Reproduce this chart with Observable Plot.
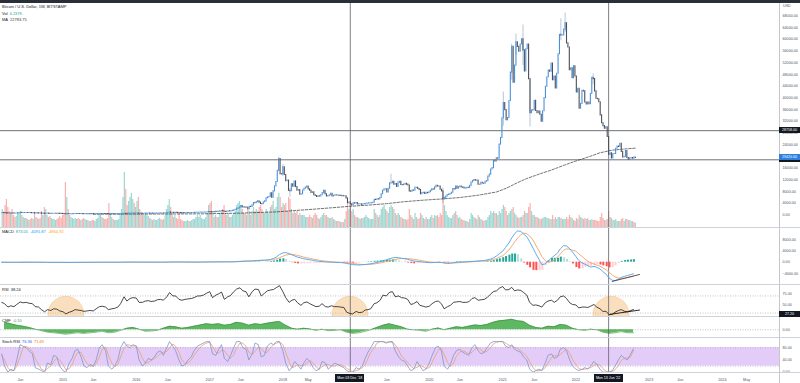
<!DOCTYPE html>
<html><head><meta charset="utf-8">
<script src="https://cdn.jsdelivr.net/npm/d3@7"></script>
<script src="https://cdn.jsdelivr.net/npm/@observablehq/plot@0.6"></script>
<style>
body{margin:0;background:#fff;}
#root{position:relative;width:800px;height:383px;overflow:hidden;background:#fff;font-family:"Liberation Sans",Arial,sans-serif;}
.lg{position:absolute;left:2px;font-size:4px;line-height:5px;color:#131722;white-space:nowrap;}
.lg span{margin-left:2px;}
.tag{position:absolute;font-size:3.6px;color:#fff;text-align:center;white-space:nowrap;}
.sep{position:absolute;left:0;width:800px;height:1px;background:#cfd2d8;}
</style></head><body><div id="root"></div>
<script>
// ---------------- DATA ----------------
const weekStart = "2014-03-03";           // first weekly candle (Monday)
const firstOpen = 560;
const close2014 = [635,630,585,480,450, 440,500,460,440, 430,445,525,580, 655,590,595,595,630, 620,620,600,585, 590,495,510,480, 475,475,400,400,330, 360,385,355,325, 365,375,375,378, 370,345,320,318,270];
const close2015 = [265,205,250,225, 225,235,240,255, 275,280,260,250,255, 235,225,225,240, 240,235,240,230, 225,230,245,250,270, 290,280,290,280, 265,260,230,230,240, 230,230,235,240, 245,270,290,325, 380,330,325,360,390, 435,450,420,430];
const close2016 = [450,385,385,375, 370,375,410,420,435, 410,415,410,415, 420,425,445,460, 455,455,440,470,530, 680,760,630,660, 650,680,660,625, 590,585,580,575,575, 605,610,600,610, 615,640,650,690,700, 705,735,735,740, 765,785,890,960];
const close2017 = [910,820,925,920,1015, 1000,1050,1190,1250, 1230,1020,970,1090, 1190,1180,1250,1350, 1540,1720,2050,2170,2500, 2950,2500,2530,2430, 2500,1950,2750,2720,3230, 4050,4000,4350,4600, 4150,3700,3600,4300, 4600,5650,5950,6100,7350, 5850,8000,9700,11200, 15000,19100,13900,13800];
const close2018 = [16200,13600,11500,11700,8200, 8100,10400,9600,11400, 9500,8200,8500,6900, 7000,8300,8900,9300,9650, 8700,8200,7500,7650, 6700,6450,6100,6350, 6300,6700,7400,8200,7000, 6300,6400,6700,7200, 6300,6500,6700,6600, 6600,6450,6500,6400,6350, 6350,5600,4000,4150, 3600,3200,3950,3850,4050];
const close2019 = [3500,3550,3550,3420, 3600,3650,3800,3850, 3900,3970,3990,4100, 5100,5050,5300,5250,5750, 7000,8200,8700,8700, 7600,8900,10800,10800, 11300,10300,10500,9500,11000, 11300,10200,10100,10300, 10600,10300,10000,8000,7900, 8300,8250,9200,9200, 8800,8500,7000,7400, 7500,7100,7500,7400,7700];
const close2020 = [8200,8700,8600,9350, 9900,9700,9650,8550, 8000,5350,5800,6250,6750, 6900,7100,7550,8800, 8700,9700,8900,9450, 9700,9350,9300,9000,9050, 9250,9200,9900,11050, 11550,11900,11650,11700,10300, 10300,10950,10700,10650, 11300,11500,13050,13750, 15500,15950,18450,18200,19350, 19150,24000,26300,33000];
const close2021 = [38200,35800,32300,33100, 38900,48600,57400,45200, 51000,59000,57400,55800,58200, 60000,56200,49000,56600, 58200,46400,34700,35600,35800, 39000,35500,34700,35300, 34200,31800,35400,39900, 43800,47000,49300,48900,51700, 46000,47300,43200,48200, 54900,61500,61300,61300, 63300,65500,58600,57200,49400, 50100,46700,50800,47300];
const close2022 = [41800,43100,36300,37900,42400, 42200,38400,37700,38400, 37800,41300,46800,46400, 42200,39700,39500,38500, 34000,31300,30300,29400,29900, 26600,20500,21000,19300, 20800,20800,22600,23300, 23200,24300,21500,19600,19800, 21800,19400,18800,19300, 19400,19200,19600,19420];

// notable weekly wicks (week start, high, low)
const wickDates = ["2017-12-11","2018-01-01","2018-02-05","2019-06-24","2020-03-09","2021-01-04","2021-02-15","2021-03-08","2021-04-12","2021-05-17","2021-10-18","2021-11-08","2022-03-28","2022-06-13"];
const wickHighs = [19666,17200,9000,13880,9150,41950,58350,61780,64900,45800,67000,69000,48200,22600];
const wickLows  = [15000,13000,6000,10300,3850,30300,46000,54500,51000,30000,59500,62300,44400,17600];

// weekly volume, thousand BTC
const vol2014 = [18,15,22,28,20, 16,14,18,12, 10,11,15,14, 16,12,10,9,9, 8,7,8,9, 8,14,10,9, 8,9,16,12,20, 18,12,10,11, 9,8,8,7, 8,9,11,9,12];
const vol2015 = [14,45,30,18, 12,10,9,8, 9,8,9,8,7, 8,9,8,7, 7,6,6,7, 7,6,8,9,12, 14,10,9,8, 8,9,24,14,10, 8,7,7,7, 8,14,18,30, 55,38,22,26,30, 34,28,24,20];
const vol2016 = [26,30,18,14, 12,12,14,12,11, 9,8,7,8, 7,7,8,9, 8,7,8,12,18, 22,28,20,14, 10,12,9,8, 14,8,7,6,6, 6,7,6,6, 7,8,8,10,12, 10,12,9,8, 8,10,14,22];
const vol2017 = [24,26,14,10,12, 10,10,14,16, 18,22,14,12, 14,10,10,12, 14,16,22,24,26, 22,18,14,14, 12,18,16,12,16, 20,16,18,16, 20,22,18,14, 14,18,16,14,20, 22,26,18,20, 30,34,30,20];
const vol2018 = [24,22,24,16,30, 28,18,14,16, 14,16,12,14, 12,12,12,10,10, 10,12,10,9, 12,14,12,9, 8,10,12,14,12, 12,10,9,9, 10,8,7,6, 6,6,5,5,5, 8,16,26,18, 20,16,18,12,10];
const vol2019 = [10,9,8,9, 9,10,12,10, 9,8,8,8, 18,14,12,10,12, 18,20,22,18, 16,14,20,22, 20,18,14,12,14, 12,10,9,8, 8,7,8,18,12, 10,8,14,10, 8,9,14,12, 9,8,10,8,8];
const vol2020 = [10,12,9,12, 11,12,10,14, 12,30,22,16,12, 10,9,9,12, 14,16,12,9, 10,8,7,7,6, 6,5,8,14, 12,10,9,8,12, 10,8,7,6, 7,7,10,12, 16,14,16,14,14, 12,16,14,18];
const vol2021 = [22,20,16,12, 14,16,18,20, 14,12,10,9,10, 10,12,16,14, 14,20,24,16,12, 12,10,10,9, 8,8,9,10, 10,9,9,8,8, 12,8,10,8, 10,10,9,8, 8,8,10,8,12, 10,9,7,6];
const vol2022 = [9,8,12,10,9, 8,9,8,9, 7,7,8,7, 7,7,6,6, 10,14,9,7,7, 8,16,10,9, 7,7,8,6, 6,6,8,9,6, 8,8,7,7, 6,6,5,4.237];

// 200-week moving average
const maDates  = ["2015-06-01","2015-12-01","2016-06-01","2016-12-01","2017-06-01","2017-12-01","2018-03-01","2018-06-01","2018-09-01","2018-12-01","2019-03-01","2019-06-01","2019-09-01","2019-12-01","2020-03-01","2020-06-01","2020-09-01","2020-12-01","2021-01-01","2021-02-01","2021-03-01","2021-04-01","2021-05-01","2021-07-01","2021-09-01","2021-11-01","2022-01-01","2022-03-01","2022-05-01","2022-07-01","2022-09-01","2022-10-24"];
const maValues = [210,240,280,340,560,1000,1450,1900,2400,2900,3300,3800,4500,5000,5400,5900,6700,7800,8600,9500,10500,11500,12400,13900,15300,16900,18400,19700,21200,22100,22500,22784];

// semi-monthly indicator samples (1st and 15th), Mar 2014 .. Oct 2022
const semiStart = "2014-03-01";
const macd = [
 -20,-30,-40,-45,-40,-30,-20,-10,0,5,0,-10,-25,-40,-55,-60,-55,-50,-45,-50,
 -60,-70,-70,-65,-55,-50,-45,-40,-38,-35,-30,-20,-10,-5,-5,-8,-10,-10,-8,-2,10,25,35,40,
 38,30,22,15,10,8,8,10,12,15,25,50,70,80,75,65,55,45,40,38,40,45,55,80,
 100,110,120,130,135,130,125,140,170,220,300,380,420,430,460,550,650,700,720,800,1000,1300,1900,2700,
 3300,3400,3100,2600,2200,1800,1500,1200,1000,850,650,450,300,200,100,50,-20,-60,-100,-120,-250,-450,-650,-850,
 -950,-980,-900,-800,-680,-550,-300,-100,200,500,850,1200,1500,1700,1600,1400,1200,1000,700,450,300,200,50,-50,
 -150,-150,-80,0,-100,-300,-450,-350,-200,-50,50,100,150,200,250,350,450,500,600,800,1100,1500,2200,3000,
 3900,5200,6800,8600,10000,11100,10900,10000,9000,7300,5000,3000,1000,-900,-600,400,1500,2300,3200,4700,5900,5700,4800,3600,
 2000,600,-300,-700,-1200,-1700,-1500,-1800,-2400,-3300,-4300,-5600,-6400,-6500,-6000,-5400,-5000,-4700,-4400,-4091.87];
const signal = [
 -10,-15,-25,-32,-38,-38,-33,-25,-15,-5,0,-3,-10,-20,-32,-42,-50,-52,-51,-50,
 -52,-58,-63,-65,-63,-60,-55,-50,-46,-42,-38,-32,-25,-18,-12,-10,-9,-9,-9,-7,-2,6,16,25,
 30,31,29,25,20,15,12,11,11,12,16,26,40,55,65,67,63,57,50,45,42,42,46,56,
 70,85,100,110,120,125,127,130,140,160,200,250,310,360,400,450,520,590,650,700,780,900,1200,1600,
 2100,2500,2750,2800,2650,2400,2100,1800,1550,1350,1100,900,700,520,380,260,150,70,0,-50,-100,-200,-330,-480,
 -600,-720,-800,-830,-800,-740,-620,-470,-270,-50,200,450,720,980,1180,1290,1320,1280,1180,1030,850,650,460,280,
 100,0,-50,-60,-70,-120,-200,-250,-260,-220,-150,-80,0,80,150,230,320,400,480,580,730,950,1300,1800,
 2300,3200,4300,5700,7100,8500,9700,10300,10100,9300,7900,6000,4000,2000,600,-100,200,900,1800,2900,4300,4700,4600,4200,
 3900,3000,2000,1100,400,-200,-700,-1000,-1400,-2000,-2700,-3600,-4500,-5200,-5600,-5700,-5600,-5400,-5200,-4964.92];
const rsi = [
 55,52,44,47,45,50,56,54,55,53,52,45,44,38,33,38,36,40,39,35,
 33,28,32,34,38,37,36,34,35,36,35,40,45,46,44,38,40,41,44,52,68,58,64,66,
 65,55,55,58,59,57,58,61,62,60,68,78,70,70,62,60,62,63,64,66,70,70,72,76,
 80,66,72,75,79,62,68,71,80,86,89,82,80,68,80,86,85,70,76,82,84,85,90,94,
 80,66,55,60,62,54,48,54,56,52,48,45,46,52,45,44,47,45,45,44,43,32,29,28,
 34,31,32,37,38,40,52,54,60,72,70,78,80,68,70,66,65,62,50,52,57,48,46,44,
 46,52,57,58,52,40,45,48,55,56,57,55,55,56,64,66,60,61,62,66,74,80,82,88,
 92,84,85,90,82,84,83,78,72,55,48,49,47,44,54,58,60,55,60,68,70,64,54,50,
 49,42,44,44,43,46,50,44,40,34,34,26,27,32,36,38,34,33,36,38.24];
const stochK = [
 60,20,0,10,5,40,90,85,80,70,60,15,10,5,0,30,25,55,50,20,
 5,0,30,45,70,75,50,20,15,25,20,40,80,90,70,20,10,20,40,80,100,85,80,90,
 85,40,20,30,45,40,50,65,70,55,80,100,85,70,40,20,25,40,50,70,85,90,95,100,
 100,60,55,75,90,45,35,55,80,100,100,80,75,40,60,95,90,50,55,85,95,90,100,100,
 70,30,5,15,35,25,10,30,45,35,15,5,10,35,30,10,20,30,25,20,15,5,0,0,
 15,10,20,45,65,80,100,100,100,100,95,100,100,70,50,40,35,20,5,10,35,20,5,10,
 30,55,80,85,70,20,10,25,55,70,75,65,60,55,80,90,70,60,65,80,95,100,100,100,
 100,85,80,90,75,70,65,50,40,10,0,5,10,5,30,55,60,45,50,75,80,70,40,20,
 10,5,10,15,10,20,35,25,10,0,0,0,5,20,40,55,45,40,60,76.36];
const stochD = [
 55,40,15,5,5,20,50,80,85,78,68,45,25,10,5,12,20,35,45,40,
 25,8,12,25,48,65,65,45,28,20,20,28,50,75,82,55,30,18,25,50,80,90,88,85,
 86,70,45,30,32,38,45,52,62,65,68,80,92,85,65,40,28,30,40,55,70,82,90,95,
 98,85,65,62,72,70,55,45,57,78,95,95,85,65,58,68,82,78,65,65,80,90,95,98,
 90,65,35,15,18,25,22,22,30,38,30,18,10,18,25,25,20,20,25,25,20,13,6,2,
 5,8,15,25,45,65,80,95,100,100,98,98,98,90,72,52,42,32,20,12,16,22,18,12,
 15,32,55,72,78,58,32,18,30,52,66,70,66,60,65,75,80,72,65,68,80,92,98,100,
 100,95,88,85,82,78,70,62,52,35,15,5,5,7,15,30,48,55,52,58,68,75,62,42,
 25,12,8,10,12,15,22,27,23,12,3,0,2,8,22,38,47,47,50,71.69];
// monthly Chaikin money flow (mid-month), Mar 2014 .. Oct 2022
const cmf = [
 0.25,0.2,0.15,0.12,0.08,0.02,-0.03,-0.08,-0.1,-0.12,
 -0.15,-0.12,-0.1,-0.12,-0.1,-0.08,-0.05,-0.1,-0.08,-0.02,0.05,0.08,
 0.02,-0.05,-0.04,-0.02,0.05,0.12,0.1,0.05,0.08,0.12,0.16,0.2,
 0.18,0.2,0.15,0.18,0.25,0.22,0.15,0.2,0.18,0.22,0.25,0.28,
 0.15,0.05,0.02,0.05,0.03,-0.02,0.02,-0.03,-0.02,0.0,-0.08,-0.12,
 -0.1,-0.05,0.0,0.08,0.15,0.2,0.15,0.1,0.02,0.0,-0.02,-0.05,
 0.02,0.06,0.0,0.05,0.1,0.08,0.12,0.16,0.14,0.18,0.25,0.3,
 0.32,0.35,0.3,0.28,0.15,0.08,0.05,0.12,0.1,0.18,0.15,0.05,
 0.0,-0.02,0.02,0.0,-0.08,-0.12,-0.1,-0.06,-0.1,-0.1];

// drawings / levels
const priceLevels = [28758, 18800];
const crossDates = ["2018-12-03","2022-06-13"];
const crossLabels = ["Mon 03 Dec '18","Mon 13 Jun '22"];
const rsiCircleDates = ["2015-01-15","2018-12-01","2022-06-25"];
const rsiCircleValue = 27;
const rsiBands = [70, 30];
const rsiTrend = [{date:"2022-06-20", v:27},{date:"2022-11-14", v:37}];
const macdTrend = [{date:"2022-07-01", v:-6800},{date:"2022-11-14", v:-4350}];
const priceTicks = d3.range(0, 68001, 4000);
const macdTicks = [-4000, 0, 4000, 8000];
const rsiTicks = [50, 75];
const stochTicks = [0, 40, 80];
const timeTickDates = ["2014-06-02","2015-01-01","2015-06-01","2016-01-01","2016-06-06","2017-01-01","2017-06-05","2018-01-01","2018-05-07","2019-06-03","2020-01-01","2020-06-01","2021-01-01","2021-06-07","2022-01-01","2023-01-01","2023-06-05","2024-01-01","2024-05-01"];
const timeTickLabels = ["Jun","2015","Jun","2016","Jun","2017","Jun","2018","May","Jun","2020","Jun","2021","Jun","2022","2023","Jun","2024","May"];
const legendMain = ["Bitcoin / U.S. Dollar, 1W, BITSTAMP", "4.237K", "22783.75"];
const legendMacd = ["873.05", "-4091.87", "-4964.92"];
const legendRsi = "38.24", legendCmf = "-0.10", legendStoch = ["76.36", "71.69"];

// ---------------- BUILD ----------------
const P = s => new Date(s + "T00:00:00Z");
const closes = [].concat(close2014, close2015, close2016, close2017, close2018, close2019, close2020, close2021, close2022);
const vols = [].concat(vol2014, vol2015, vol2016, vol2017, vol2018, vol2019, vol2020, vol2021, vol2022);
const w0 = P(weekStart);
const UP = "#4a8fdc", DN = "#4b4f58";
const candles = closes.map((c, i) => {
  const o = i ? closes[i-1] : firstOpen;
  return {date: d3.utcDay.offset(w0, 7*i), open: o, close: c, vol: vols[i] ?? 0, up: c >= o};
});
const wicks = wickDates.map((d, i) => ({date: P(d), hi: wickHighs[i], lo: wickLows[i]}));
const s0 = P(semiStart);
const semiDate = k => { const d = d3.utcMonth.offset(s0, Math.floor(k/2)); return k % 2 ? d3.utcDay.offset(d, 14) : d; };
const ind = macd.map((m, k) => ({date: semiDate(k), macd: m, sig: signal[k], rsi: rsi[k], k: stochK[k], d: stochD[k]}));
ind.forEach((r, k) => {
  const h = r.macd - r.sig, prev = k ? ind[k-1].macd - ind[k-1].sig : h;
  r.hist = h; r.hc = h >= 0 ? (h >= prev ? "#26a69a" : "#b2dfdb") : (h < prev ? "#ff5252" : "#ffcdd2");
  r.x2 = d3.utcDay.offset(r.date, 10);
});
const cmfRows = cmf.map((v, k) => ({date: d3.utcDay.offset(d3.utcMonth.offset(s0, k), 14), v}));
const maRows = maDates.map((d, i) => ({date: P(d), v: maValues[i]}));
const crossD = crossDates.map(P);

const root = document.getElementById("root");
const X0 = P("2014-02-23"), X1 = P("2024-10-12");
const FONT = "Liberation Sans, Arial, sans-serif";
function mk(top, height, opts) {
  const p = Plot.plot(Object.assign({
    width: 800, height, marginLeft: 0, marginRight: 21, marginTop: 0, marginBottom: 0,
    style: {background: "transparent", fontSize: "3.7px", fontFamily: FONT, color: "#50535e", overflow: "visible"},
    x: {type: "utc", domain: [X0, X1], axis: null},
    color: {type: "identity"}
  }, opts));
  p.style.position = "absolute"; p.style.left = "0px"; p.style.top = top + "px";
  root.appendChild(p);
  return p;
}
const yAx = (domain, ticks, fmt) => ({domain, axis: "right", ticks, tickFormat: fmt || d3.format(".2f"), tickSize: 0, tickPadding: 3, label: null});
const crossRule = () => Plot.ruleX(crossD, {stroke: "#5d606b", strokeWidth: 0.8});

function div(cls, css, html) { const e = document.createElement("div"); e.className = cls; Object.assign(e.style, css); e.innerHTML = html || ""; root.appendChild(e); return e; }

// top strip
div("", {position:"absolute", left:"0", top:"0", width:"800px", height:"3px", background:"#2a2e39"});

// volume overlay (behind price)
mk(3, 224, {
  y: {domain: [0, 224], axis: null},
  marks: [Plot.rectY(candles, {x1: "date", x2: d => d3.utcDay.offset(d.date, 6), y: "vol", fill: d => d.up ? "#26a69a" : "#ef5350", fillOpacity: 0.45})]
});
// price
const mainP = mk(3, 224, {
  y: yAx([-4342, 72239], priceTicks),
  marks: [
    Plot.ruleY(priceLevels, {stroke: "#4a4d55", strokeWidth: 0.8}),
    crossRule(),
    Plot.line(maRows, {x: "date", y: "v", stroke: "#3a3a3a", strokeWidth: 0.7, strokeDasharray: "2.5,1.5"}),
    Plot.ruleX(wicks, {x: d => d3.utcDay.offset(d.date, 0), y1: "lo", y2: "hi", stroke: "#8c9fba", strokeWidth: 0.6}),
    Plot.ruleX(candles, {x: "date", y1: "open", y2: "close", stroke: d => d.up ? UP : DN, strokeWidth: 1.1, strokeLinecap: "square"})
  ]
});
// MACD
mk(228, 56, {
  y: yAx([-7894, 11929], macdTicks),
  marks: [
    crossRule(),
    Plot.rectY(ind, {x1: "date", x2: "x2", y: "hist", fill: "hc"}),
    Plot.line(ind, {x: "date", y: "sig", stroke: "#f5a25d", strokeWidth: 0.9}),
    Plot.line(ind, {x: "date", y: "macd", stroke: "#4aa3f0", strokeWidth: 0.9}),
    Plot.line(macdTrend, {x: d => P(d.date), y: "v", stroke: "#5a3b33", strokeWidth: 0.9})
  ]
});
// RSI
const rsiP = mk(285, 31, {
  y: yAx([21.96, 94.39], rsiTicks),
  marks: [
    Plot.ruleY(rsiBands, {stroke: "#9598a1", strokeWidth: 0.6, strokeDasharray: "1,1.5"}),
    Plot.dot(rsiCircleDates, {x: d => P(d), y: () => rsiCircleValue, r: 18, fill: "#f5b971", fillOpacity: 0.45, stroke: "#f0a950", strokeOpacity: 0.5, strokeWidth: 0.6, clip: true}),
    crossRule(),
    Plot.line(ind, {x: "date", y: "rsi", stroke: "#1c1c1c", strokeWidth: 0.8}),
    Plot.line(rsiTrend, {x: d => P(d.date), y: "v", stroke: "#111", strokeWidth: 0.9})
  ]
});
// CMF
mk(317, 20, {
  y: yAx([-0.2567, 0.41], [0]),
  marks: [
    Plot.ruleY([0], {stroke: "#9598a1", strokeWidth: 0.6, strokeDasharray: "1,1.5"}),
    Plot.areaY(cmfRows, {x: "date", y: "v", fill: "#4caf50", fillOpacity: 0.9}),
    Plot.line(cmfRows, {x: "date", y: "v", stroke: "#3d8f41", strokeWidth: 0.6}),
    crossRule()
  ]
});
// Stoch RSI
mk(338, 34, {
  y: yAx([-0.98, 110.1], stochTicks),
  marks: [
    Plot.rect([0], {x1: () => X0, x2: () => X1, y1: () => 20, y2: () => 80, fill: "#e3cdf8"}),
    Plot.ruleY([20, 80], {stroke: "#a08fc0", strokeWidth: 0.6, strokeDasharray: "1,1.5"}),
    crossRule(),
    Plot.line(ind, {x: "date", y: "d", stroke: "#e8a070", strokeWidth: 0.8}),
    Plot.line(ind, {x: "date", y: "k", stroke: "#7d96c8", strokeWidth: 0.8})
  ]
});
// time axis
const timeRows = timeTickDates.map((d, i) => ({date: P(d), label: timeTickLabels[i]}));
const timeP = mk(373, 10, {
  marks: [Plot.text(timeRows, {x: "date", text: "label", frameAnchor: "middle", dy: 1.5, fontSize: 3.7, fill: "#50535e", fontWeight: d => /^\d/.test(d.label) ? "bold" : "normal"})]
});

// separators and price-scale border
[227, 284, 316, 337, 372].forEach(y => div("sep", {top: y + "px"}));
div("", {position:"absolute", left:"779px", top:"3px", width:"1px", height:"380px", background:"#c4c7ce"});
div("lg", {left: "783px", top: "3.5px", fontSize: "3.7px", color: "#50535e"}, "USD");

// axis value tags (placed through the plots' scales)
function tag(text, left, yc, w, h, bg) {
  div("tag", {left: left + "px", top: (yc - h/2) + "px", width: w + "px", height: h + "px", lineHeight: h + "px", background: bg}, text);
}
const yMain = mainP.scale("y");
tag("", 779, 3 + yMain.apply(priceLevels[1]), 21, 6, "#131722");   // level tag, mostly covered by last-price tag
tag(d3.format(".2f")(priceLevels[0]), 779, 3 + yMain.apply(priceLevels[0]), 21, 6, "#131722");
tag(d3.format(".2f")(closes[closes.length-1]), 779, 3 + yMain.apply(closes[closes.length-1]), 21, 6, "#2f7fe0");
tag(d3.format(".2f")(rsiCircleValue + 0.2), 779, 285 + rsiP.scale("y").apply(rsiCircleValue + 0.2), 21, 6, "#131722");
const xs = timeP.scale("x");
crossD.forEach((d, i) => tag(crossLabels[i], xs.apply(d) - 14.5, 378, 29, 8, "#131722"));

// legends
div("lg", {top: "4.2px"}, legendMain[0]);
div("lg", {top: "10.8px"}, `Vol<span style="color:#26a69a">${legendMain[1]}</span>`);
div("lg", {top: "16.5px"}, `MA<span style="color:#3a3a3a">${legendMain[2]}</span>`);
div("lg", {top: "229.2px"}, `MACD<span style="color:#26a69a">${legendMacd[0]}</span><span style="color:#2196f3">${legendMacd[1]}</span><span style="color:#ff9800">${legendMacd[2]}</span>`);
div("lg", {top: "287.2px"}, `RSI<span style="color:#131722">${legendRsi}</span>`);
div("lg", {top: "318.2px"}, `CMF<span style="color:#43a047">${legendCmf}</span>`);
div("lg", {top: "339px"}, `Stoch RSI<span style="color:#2962ff">${legendStoch[0]}</span><span style="color:#ff6d00">${legendStoch[1]}</span>`);
</script></body></html>
